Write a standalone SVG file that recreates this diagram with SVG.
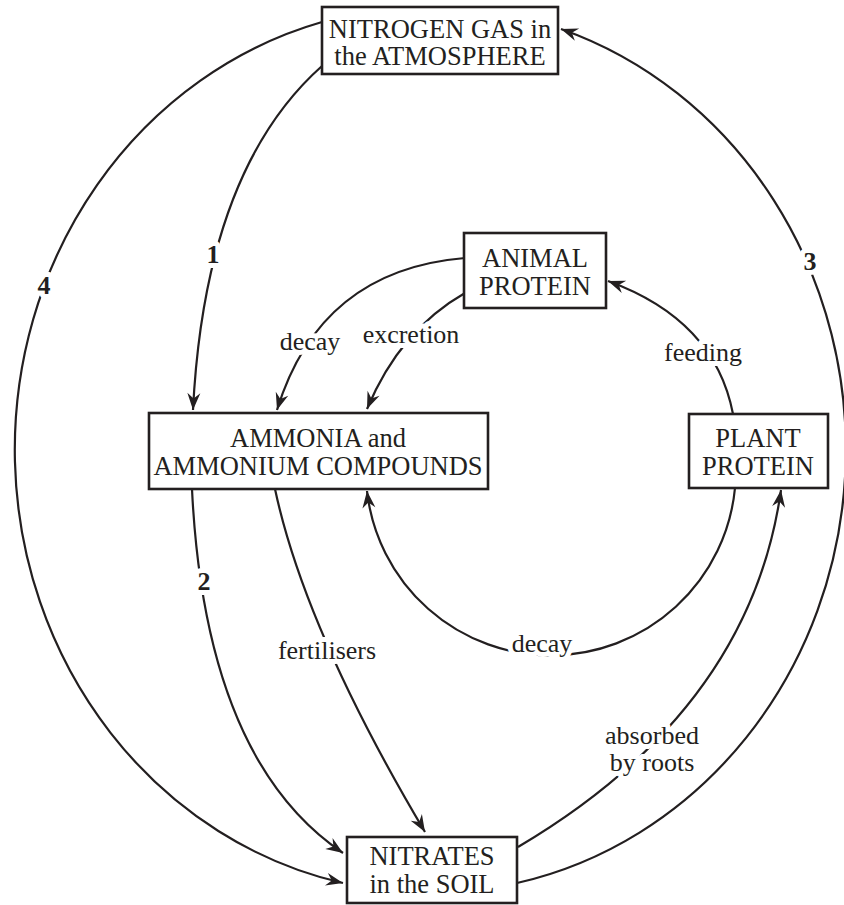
<svg xmlns="http://www.w3.org/2000/svg" width="844" height="905" viewBox="0 0 844 905">
<style>
.box{fill:#fff;stroke:#231f20;stroke-width:2.6}
.bt{font-size:26.5px;fill:#231f20;text-anchor:middle}
.lbl{font-size:26px;fill:#231f20;text-anchor:middle;stroke:#fff;stroke-width:10;paint-order:stroke;stroke-linejoin:round}
.num{font-weight:bold}
.c{fill:none;stroke:#231f20;stroke-width:2.2;marker-end:url(#ah)}
</style>
<defs>
<marker id="ah" markerUnits="userSpaceOnUse" viewBox="-18 -9 20 18" refX="0" refY="0" markerWidth="20" markerHeight="18" orient="auto">
<path d="M0,0 L-17,-6.5 L-11.5,0 L-17,6.5 Z" fill="#231f20"/>
</marker>
</defs>
<g id="connectors">
<path class="c" d="M322,22 A415,443 0 0 0 343,883"/>
<path class="c" d="M517,883 A415,443 0 0 0 561,29"/>
<path class="c" d="M322,66 Q205,170 193,410"/>
<path class="c" d="M192,489 Q205,760 343,853"/>
<path class="c" d="M275,489 Q305,630 425,832"/>
<path class="c" d="M465,258 Q320,270 277,410"/>
<path class="c" d="M465,293 Q400,330 367,409"/>
<path class="c" d="M733,414 Q715,320 608,281"/>
<path class="c" d="M735,488 A185,185 0 0 1 367,491"/>
<path class="c" d="M518,847 Q750,710 781,490"/>
</g>
<g id="labels" font-family="Liberation Serif, serif">
<text class="lbl num" x="213" y="263">1</text>
<text class="lbl num" x="204" y="590">2</text>
<text class="lbl num" x="810" y="270">3</text>
<text class="lbl num" x="44" y="294">4</text>
<text class="lbl" x="310" y="350">decay</text>
<text class="lbl" x="411" y="343">excretion</text>
<text class="lbl" x="703" y="361">feeding</text>
<text class="lbl" x="327" y="659">fertilisers</text>
<text class="lbl" x="542" y="652">decay</text>
<text class="lbl" x="652" y="744">absorbed</text>
<text class="lbl" x="652" y="771">by roots</text>
</g>
<g font-family="Liberation Serif, serif">
<g id="nitrogen-gas">
<rect class="box" x="322" y="7" width="236" height="67"/>
<text class="bt" x="440" y="38">NITROGEN GAS in</text>
<text class="bt" x="440" y="65">the ATMOSPHERE</text>
</g>
<g id="animal-protein">
<rect class="box" x="464" y="233" width="142" height="75"/>
<text class="bt" x="535" y="267">ANIMAL</text>
<text class="bt" x="535" y="295">PROTEIN</text>
</g>
<g id="ammonia">
<rect class="box" x="149" y="413" width="339" height="76"/>
<text class="bt" x="318" y="447">AMMONIA and</text>
<text class="bt" x="318" y="475">AMMONIUM COMPOUNDS</text>
</g>
<g id="plant-protein">
<rect class="box" x="689" y="414" width="139" height="74"/>
<text class="bt" x="758" y="447">PLANT</text>
<text class="bt" x="758" y="475">PROTEIN</text>
</g>
<g id="nitrates">
<rect class="box" x="347" y="837" width="170" height="66"/>
<text class="bt" x="432" y="865">NITRATES</text>
<text class="bt" x="432" y="893">in the SOIL</text>
</g>
</g>
</svg>
